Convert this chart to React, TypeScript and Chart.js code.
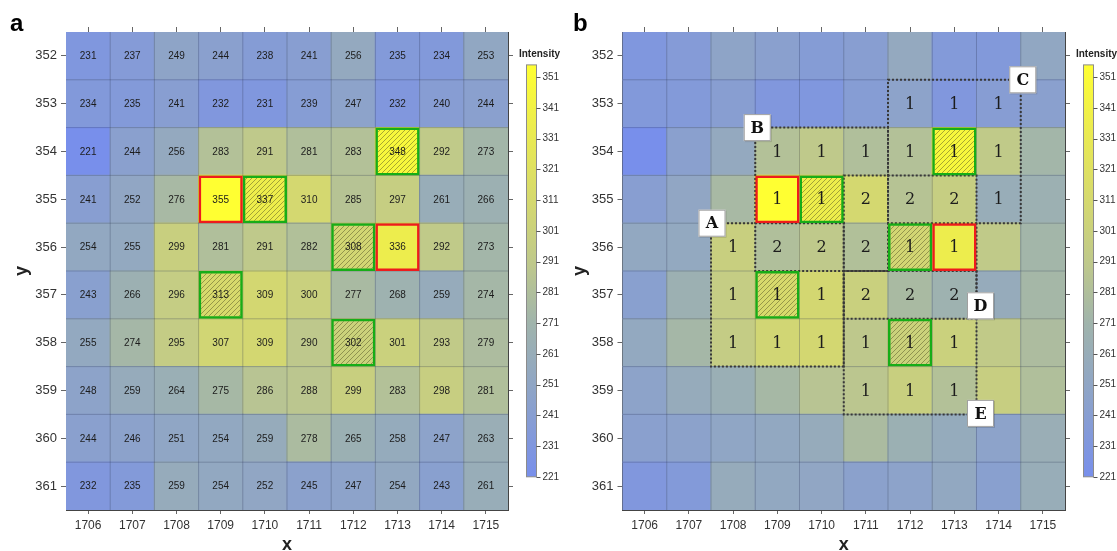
import React, { useEffect, useRef } from "react";
import { Chart, registerables } from "chart.js";

Chart.register(...registerables);

// ---------------- data ----------------
const xLabels = ["1706", "1707", "1708", "1709", "1710", "1711", "1712", "1713", "1714", "1715"];
const yRows = [352, 353, 354, 355, 356, 357, 358, 359, 360, 361];
const intensityTicks = [221, 231, 241, 251, 261, 271, 281, 291, 301, 311, 321, 331, 341, 351];

const intensity: number[][] = [
  [231, 237, 249, 244, 238, 241, 256, 235, 234, 253],
  [234, 235, 241, 232, 231, 239, 247, 232, 240, 244],
  [221, 244, 256, 283, 291, 281, 283, 348, 292, 273],
  [241, 252, 276, 355, 337, 310, 285, 297, 261, 266],
  [254, 255, 299, 281, 291, 282, 308, 336, 292, 273],
  [243, 266, 296, 313, 309, 300, 277, 268, 259, 274],
  [255, 274, 295, 307, 309, 290, 302, 301, 293, 279],
  [248, 259, 264, 275, 286, 288, 299, 283, 298, 281],
  [244, 246, 251, 254, 259, 278, 265, 258, 247, 263],
  [232, 235, 259, 254, 252, 245, 247, 254, 243, 261],
];

const overlapCounts: (number | null)[][] = [
  [null, null, null, null, null, null, null, null, null, null],
  [null, null, null, null, null, null, 1, 1, 1, null],
  [null, null, null, 1, 1, 1, 1, 1, 1, null],
  [null, null, null, 1, 1, 2, 2, 2, 1, null],
  [null, null, 1, 2, 2, 2, 1, 1, null, null],
  [null, null, 1, 1, 1, 2, 2, 2, null, null],
  [null, null, 1, 1, 1, 1, 1, 1, null, null],
  [null, null, null, null, null, 1, 1, 1, null, null],
  [null, null, null, null, null, null, null, null, null, null],
  [null, null, null, null, null, null, null, null, null, null],
];

const redCells: [string, number][] = [["1709", 355], ["1713", 356]];
const greenCells: [string, number][] = [["1710", 355], ["1713", 354], ["1712", 356], ["1709", 357], ["1712", 358]];

const regionNames = ["A", "B", "C", "D", "E"];
const regionCols: [number, number][] = [[1708, 1710], [1709, 1711], [1712, 1714], [1711, 1713], [1711, 1713]];
const regionRows: [number, number][] = [[356, 358], [354, 356], [353, 355], [355, 357], [357, 359]];
const regionLabelCorner = ["tl", "tl", "tr", "br", "br"];

// ---------------- style ----------------
const FONT = '"Liberation Sans", Arial, sans-serif';
const SERIF = '"DejaVu Serif", "Liberation Serif", serif';
const labelNudgeX = [1, 2, 2, 4, 4];
const labelNudgeY = [0, 0, 0, -13, -1];

const cmapStops = [221, 250, 271, 290, 310, 335, 355];
const cmapRGB = [
  [120, 143, 235],
  [143, 165, 198],
  [160, 180, 172],
  [190, 200, 140],
  [212, 216, 112],
  [236, 236, 78],
  [255, 255, 50],
];

function colorFor(v: number): string {
  if (v <= cmapStops[0]) return `rgb(${cmapRGB[0].join(",")})`;
  for (let i = 1; i < cmapStops.length; i++) {
    if (v <= cmapStops[i]) {
      const t = (v - cmapStops[i - 1]) / (cmapStops[i] - cmapStops[i - 1]);
      const a = cmapRGB[i - 1];
      const b = cmapRGB[i];
      const c = a.map((av, k) => Math.round(av + (b[k] - av) * t));
      return `rgb(${c.join(",")})`;
    }
  }
  return `rgb(${cmapRGB[cmapRGB.length - 1].join(",")})`;
}

const PANEL_H = 551;
const PLOT_TOP = 32;
const PLOT_BOTTOM = 510;
const CB_SCALE_MIN = 210.2;
const CB_SCALE_MAX = 365.7;

type Mode = "a" | "b";
const geom = {
  a: { left: 0, width: 562, plotLeft: 66, plotRight: 508, letterX: 10, yTitleX: 22 },
  b: { left: 560, width: 557, plotLeft: 62.5, plotRight: 505, letterX: 13, yTitleX: 20 },
};

function makeHatch(): CanvasPattern | string {
  const c = document.createElement("canvas");
  c.width = 5;
  c.height = 5;
  const g = c.getContext("2d");
  if (!g) return "rgba(0,0,0,0)";
  g.strokeStyle = "rgba(70,70,30,0.5)";
  g.lineWidth = 0.9;
  g.beginPath();
  g.moveTo(0, 5);
  g.lineTo(5, 0);
  g.moveTo(-1, 1);
  g.lineTo(1, -1);
  g.moveTo(4, 6);
  g.lineTo(6, 4);
  g.stroke();
  const p = g.createPattern(c, "repeat");
  return p || "rgba(0,0,0,0)";
}

function Panel({ mode }: { mode: Mode }) {
  const ref = useRef<HTMLCanvasElement>(null);
  const G = geom[mode];

  useEffect(() => {
    if (!ref.current) return;
    const x0 = Number(xLabels[0]);
    const cellPoints: any[] = [];
    const cellColors: string[] = [];
    yRows.forEach((row, r) =>
      xLabels.forEach((lab, c) => {
        cellPoints.push({ x: lab, y: [row - 0.5, row + 0.5] });
        cellColors.push(colorFor(intensity[r][c]));
      })
    );
    const flat = intensity.flat();
    const vMin = Math.min(...flat);
    const vMax = Math.max(...flat);

    const common = {
      grouped: false,
      barPercentage: 1,
      categoryPercentage: 1,
      borderSkipped: false,
      xAxisID: "x",
      yAxisID: "y",
    };

    const xp = (chart: any, v: number) => chart.scales.x.getPixelForValue(v - x0);
    const yp = (chart: any, v: number) => chart.scales.y.getPixelForValue(v);

    const overlay = {
      id: "overlay" + mode,
      afterDatasetDraw(chart: any, args: any) {
        if (args.index !== 2) return;
        const ctx = chart.ctx;
        const area = chart.chartArea;
        ctx.save();
        // thin cell grid lines
        ctx.strokeStyle = "rgba(50,60,90,0.3)";
        ctx.lineWidth = 1;
        ctx.beginPath();
        for (let i = 1; i < xLabels.length; i++) {
          const px = xp(chart, x0 + i - 0.5);
          ctx.moveTo(px, area.top);
          ctx.lineTo(px, area.bottom);
        }
        for (let j = 1; j < yRows.length; j++) {
          const py = yp(chart, yRows[j] - 0.5);
          ctx.moveTo(area.left, py);
          ctx.lineTo(area.right, py);
        }
        ctx.stroke();
        if (mode === "b") {
          ctx.setLineDash([2, 2]);
          ctx.lineWidth = 2;
          ctx.strokeStyle = "#383838";
          regionNames.forEach((_, i) => {
            const l = xp(chart, regionCols[i][0] - 0.5);
            const r = xp(chart, regionCols[i][1] + 0.5);
            const t = yp(chart, regionRows[i][0] - 0.5);
            const b = yp(chart, regionRows[i][1] + 0.5);
            ctx.strokeRect(l, t, r - l, b - t);
          });
        }
        ctx.restore();
      },
      afterDatasetsDraw(chart: any) {
        const ctx = chart.ctx;
        ctx.save();
        ctx.textAlign = "center";
        ctx.textBaseline = "middle";
        if (mode === "a") {
          ctx.font = `10px ${FONT}`;
          ctx.fillStyle = "#1c1c1c";
          yRows.forEach((row, r) =>
            xLabels.forEach((lab, c) => {
              ctx.fillText(String(intensity[r][c]), xp(chart, Number(lab)), yp(chart, row) + 0.5);
            })
          );
        } else {
          ctx.font = `16px ${SERIF}`;
          ctx.fillStyle = "#1c1c1c";
          yRows.forEach((row, r) =>
            xLabels.forEach((lab, c) => {
              const n = overlapCounts[r][c];
              if (n !== null) ctx.fillText(String(n), xp(chart, Number(lab)), yp(chart, row) + 1);
            })
          );
          // region labels
          regionNames.forEach((name, i) => {
            const corner = regionLabelCorner[i];
            const lx = corner.includes("l") ? regionCols[i][0] - 0.5 : regionCols[i][1] + 0.5;
            const ly = corner.includes("t") ? regionRows[i][0] - 0.5 : regionRows[i][1] + 0.5;
            const cx = xp(chart, lx) + labelNudgeX[i];
            const cy = yp(chart, ly) + labelNudgeY[i];
            const s = 27;
            ctx.fillStyle = "rgba(0,0,0,0.15)";
            ctx.fillRect(cx - s / 2 + 1, cy - s / 2 + 1, s, s);
            ctx.fillStyle = "#ffffff";
            ctx.fillRect(cx - s / 2, cy - s / 2, s, s);
            ctx.strokeStyle = "#a0a0a0";
            ctx.lineWidth = 1;
            ctx.strokeRect(cx - s / 2 + 0.5, cy - s / 2 + 0.5, s - 1, s - 1);
            ctx.fillStyle = "#111";
            ctx.font = `bold 16px ${SERIF}`;
            ctx.fillText(name, cx, cy + 1);
          });
        }
        ctx.restore();
      },
      afterDraw(chart: any) {
        const ctx = chart.ctx;
        const area = chart.chartArea;
        const yc = chart.scales.yc;
        ctx.save();
        // colorbar
        const cbL = area.right + 18.5;
        const cbW = 10;
        const top = yc.getPixelForValue(vMax);
        const bot = yc.getPixelForValue(vMin);
        const grad = ctx.createLinearGradient(0, bot, 0, top);
        cmapStops.forEach((v) => {
          const t = Math.min(1, Math.max(0, (v - vMin) / (vMax - vMin)));
          grad.addColorStop(t, colorFor(v));
        });
        ctx.fillStyle = grad;
        ctx.fillRect(cbL, top, cbW, bot - top);
        ctx.strokeStyle = "#8c8c8c";
        ctx.lineWidth = 1;
        ctx.strokeRect(cbL, top, cbW, bot - top);
        ctx.strokeStyle = "#555";
        intensityTicks.forEach((v) => {
          const py = Math.round(yc.getPixelForValue(v)) + 0.5;
          ctx.beginPath();
          ctx.moveTo(cbL + cbW, py);
          ctx.lineTo(cbL + cbW + 4, py);
          ctx.stroke();
        });
        ctx.fillStyle = "#222";
        ctx.font = `bold 10px ${FONT}`;
        ctx.textAlign = "center";
        ctx.textBaseline = "middle";
        ctx.fillText("Intensity", cbL + cbW / 2 + 8, 54);
        // panel letter
        ctx.font = `bold 24px ${FONT}`;
        ctx.textAlign = "left";
        ctx.textBaseline = "alphabetic";
        ctx.fillStyle = "#000";
        ctx.fillText(mode, G.letterX, 31);
        // axis titles
        ctx.font = `bold 18px ${FONT}`;
        ctx.fillStyle = "#222";
        ctx.textAlign = "center";
        ctx.fillText("x", (area.left + area.right) / 2, 550);
        ctx.translate(G.yTitleX, (area.top + area.bottom) / 2);
        ctx.rotate(-Math.PI / 2);
        ctx.textBaseline = "middle";
        ctx.fillText("y", 0, 0);
        ctx.restore();
      },
    };

    const tickGrid = (len: number) => ({
      display: true,
      drawOnChartArea: false,
      drawTicks: true,
      tickLength: len,
      color: "#666",
      offset: false,
    });
    const border = { display: true, color: "#444", width: 1 };

    const chart = new Chart(ref.current, {
      type: "bar",
      data: {
        labels: xLabels,
        datasets: [
          {
            ...common,
            label: "max",
            data: redCells.map(([lab, row]) => ({ x: lab, y: [row - 0.5, row + 0.5] })),
            backgroundColor: "rgba(0,0,0,0)",
            borderColor: "#ee1c1c",
            borderWidth: 2.5,
            inflateAmount: 0,
            order: 0,
          } as any,
          {
            ...common,
            label: "selected",
            data: greenCells.map(([lab, row]) => ({ x: lab, y: [row - 0.5, row + 0.5] })),
            backgroundColor: makeHatch(),
            borderColor: "#17ad17",
            borderWidth: 2.5,
            inflateAmount: 0,
            order: 1,
          } as any,
          {
            ...common,
            label: "cells",
            data: cellPoints,
            backgroundColor: cellColors,
            borderWidth: 0,
            inflateAmount: 0.6,
            order: 2,
          } as any,
        ],
      },
      options: {
        responsive: false,
        animation: false,
        layout: { padding: 0 },
        plugins: {
          legend: { display: false },
          tooltip: { enabled: false },
          title: { display: false },
        },
        scales: {
          x: {
            type: "category",
            position: "bottom",
            offset: true,
            grid: tickGrid(4),
            border,
            ticks: { color: "#333", font: { family: FONT, size: 12 }, padding: 4, maxRotation: 0, autoSkip: false },
            afterFit: (s: any) => {
              s.height = PANEL_H - PLOT_BOTTOM;
            },
          },
          x2: {
            type: "category",
            position: "top",
            offset: true,
            grid: tickGrid(5),
            border,
            ticks: { display: false },
            afterFit: (s: any) => {
              s.height = PLOT_TOP;
            },
          },
          y: {
            type: "linear",
            position: "left",
            min: 351.5,
            max: 361.5,
            reverse: true,
            grid: tickGrid(5),
            border,
            afterBuildTicks: (s: any) => {
              s.ticks = yRows.map((v) => ({ value: v }));
            },
            ticks: { color: "#333", font: { family: FONT, size: 13 }, padding: 4, autoSkip: false },
            afterFit: (s: any) => {
              s.width = G.plotLeft;
            },
          },
          y2: {
            type: "linear",
            position: "right",
            weight: 0,
            min: 351.5,
            max: 361.5,
            reverse: true,
            grid: tickGrid(5),
            border,
            afterBuildTicks: (s: any) => {
              s.ticks = yRows.map((v) => ({ value: v }));
            },
            ticks: { display: false },
            afterFit: (s: any) => {
              s.width = 5;
            },
          },
          yc: {
            type: "linear",
            position: "right",
            weight: 1,
            min: CB_SCALE_MIN,
            max: CB_SCALE_MAX,
            grid: { display: true, drawOnChartArea: false, drawTicks: true, tickLength: 26, color: "rgba(0,0,0,0)" },
            border: { display: false },
            afterBuildTicks: (s: any) => {
              s.ticks = intensityTicks.map((v) => ({ value: v }));
            },
            ticks: { color: "#333", font: { family: FONT, size: 10 }, padding: 3.5, autoSkip: false },
            afterFit: (s: any) => {
              s.width = G.width - G.plotRight - 5;
            },
          },
        },
      } as any,
      plugins: [overlay as any],
    });
    return () => chart.destroy();
  }, []);

  return (
    <canvas
      ref={ref}
      width={G.width}
      height={PANEL_H}
      style={{ position: "absolute", left: G.left, top: 0, width: G.width, height: PANEL_H }}
    />
  );
}

export default function App() {
  return (
    <div
      style={{
        position: "fixed",
        left: 0,
        top: 0,
        width: 1117,
        height: 551,
        background: "#ffffff",
        overflow: "hidden",
      }}
    >
      <Panel mode="a" />
      <Panel mode="b" />
    </div>
  );
}
